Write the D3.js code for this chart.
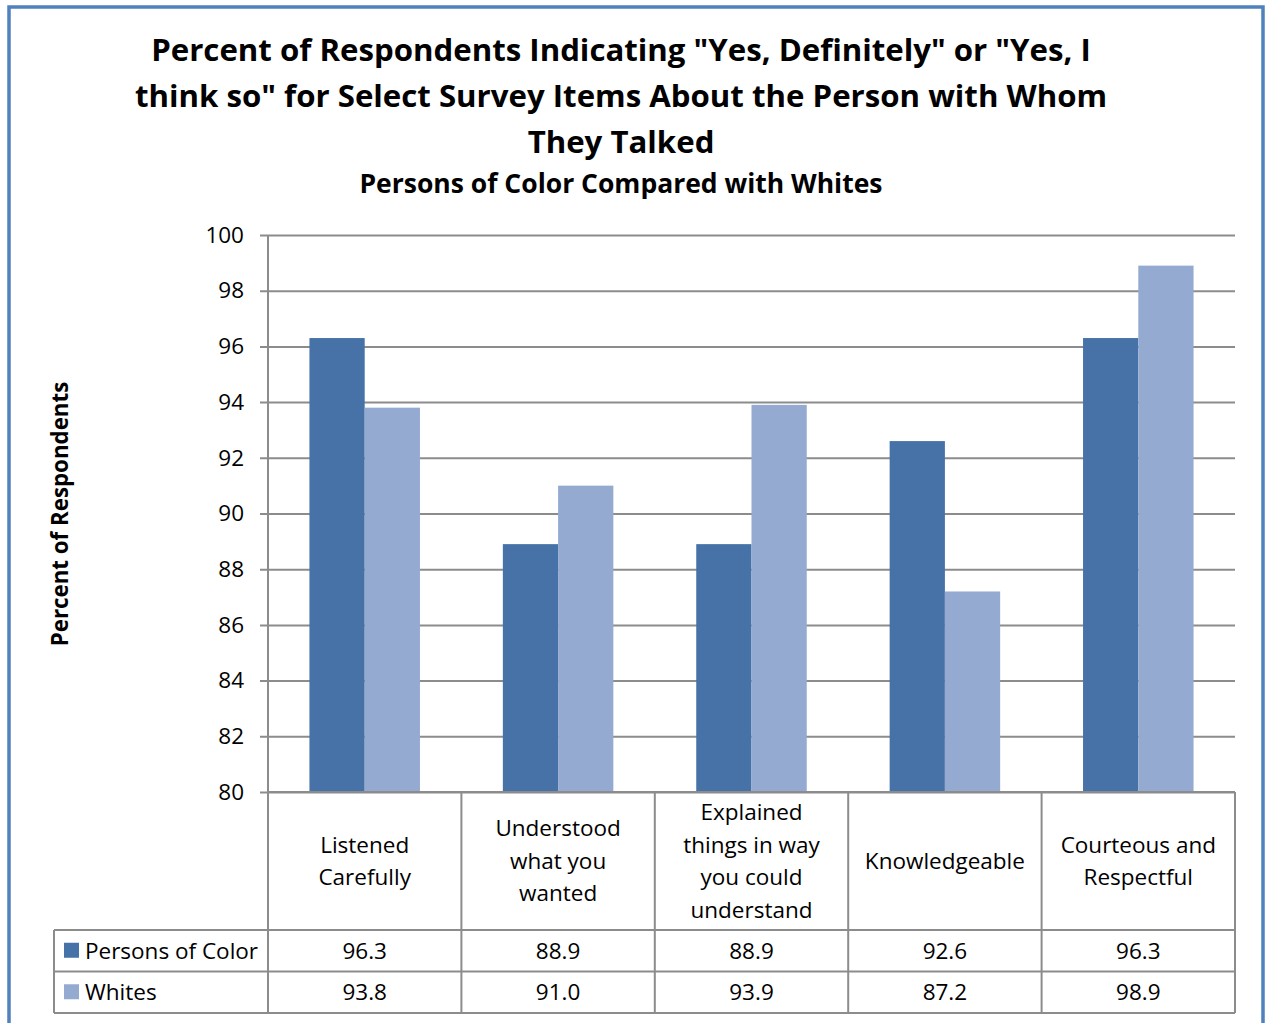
<!DOCTYPE html>
<html>
<head>
<meta charset="utf-8">
<script src="https://cdn.jsdelivr.net/npm/d3@7"></script>
<style>
  html, body { margin: 0; padding: 0; background: #fff; }
  svg { display: block; font-family: "Open Sans", Lato, sans-serif; }
</style>
</head>
<body>
<svg id="chart" width="1268" height="1023"></svg>
<script>
// Survey items (category axis), shown as wrapped lines in the data table header
const categories = [
  ["Listened", "Carefully"],
  ["Understood", "what you", "wanted"],
  ["Explained", "things in way", "you could", "understand"],
  ["Knowledgeable"],
  ["Courteous and", "Respectful"]
];
const seriesNames = ["Persons of Color", "Whites"];
const personsOfColor = [96.3, 88.9, 88.9, 92.6, 96.3];
const whites = [93.8, 91.0, 93.9, 87.2, 98.9];
const yTicks = [80, 82, 84, 86, 88, 90, 92, 94, 96, 98, 100];
const titleLines = [
  "Percent of Respondents Indicating \"Yes, Definitely\" or \"Yes, I",
  "think so\" for Select Survey Items About the Person with Whom",
  "They Talked"
];
const subtitle = "Persons of Color Compared with Whites";
const yTitle = "Percent of Respondents";

const colors = ["#4672A8", "#95AAD1"];
const series = [personsOfColor, whites];
const bodySize = 22.5;

const svg = d3.select("#chart");

// outer chart frame
svg.append("rect")
  .attr("x", 9).attr("y", 7).attr("width", 1254).attr("height", 1030)
  .attr("fill", "none").attr("stroke", "#4F81BD").attr("stroke-width", 3.5);

// titles
const titleG = svg.append("g").attr("font-weight", 700).attr("fill", "#000");
titleG.selectAll("text.title").data(titleLines).join("text")
  .attr("class", "title")
  .attr("x", 621).attr("y", (d, i) => 61 + i * 46)
  .attr("text-anchor", "middle").attr("font-size", 31.2)
  .text(d => d);
titleG.append("text")
  .attr("x", 621).attr("y", 193)
  .attr("text-anchor", "middle").attr("font-size", 26.5)
  .text(subtitle);

// plot geometry
const plotLeft = 268, plotRight = 1235, plotTop = 235, plotBottom = 792;
const y = d3.scaleLinear().domain([80, 100]).range([plotBottom, plotTop]);
const x0 = d3.scaleBand().domain(d3.range(categories.length)).range([plotLeft, plotRight]).paddingInner(0).paddingOuter(0);
const x1 = d3.scaleBand().domain(d3.range(series.length)).range([0, x0.bandwidth()]).paddingInner(0).paddingOuter(0.75);

// gridlines + ticks
const yAxis = d3.axisLeft(y).tickValues(yTicks).tickSize(-(plotRight - plotLeft)).tickPadding(16);
const yg = svg.append("g").attr("transform", `translate(${plotLeft},0)`).call(yAxis);
yg.select(".domain").remove();
yg.selectAll(".tick line").attr("stroke", "#8C8C8C").attr("stroke-width", 2).attr("x1", -8);
yg.selectAll(".tick text").attr("font-size", bodySize).attr("font-family", "'Open Sans', sans-serif").attr("fill", "#000").attr("x", -24);

// bars
const barG = svg.append("g");
series.forEach((vals, s) => {
  barG.selectAll(`rect.s${s}`).data(vals).join("rect")
    .attr("class", `s${s}`)
    .attr("x", (d, i) => x0(i) + x1(s))
    .attr("y", d => y(d))
    .attr("width", x1.bandwidth())
    .attr("height", d => y(80) - y(d))
    .attr("fill", colors[s]);
});

// y axis line
svg.append("line").attr("x1", plotLeft).attr("x2", plotLeft).attr("y1", plotTop).attr("y2", plotBottom)
  .attr("stroke", "#8C8C8C").attr("stroke-width", 2);

// y title
svg.append("text")
  .attr("transform", `translate(68,514) rotate(-90)`)
  .attr("text-anchor", "middle").attr("font-size", 22.3).attr("font-weight", 700)
  .text(yTitle);

// data table
const headerBottom = 930, rowH = 41.5, tableLeft = 54;
const tbl = svg.append("g").attr("stroke", "#8C8C8C").attr("stroke-width", 2).attr("fill", "none");
d3.range(categories.length + 1).forEach(i => {
  const xx = i < categories.length ? x0(i) : plotRight;
  tbl.append("line").attr("x1", xx).attr("x2", xx).attr("y1", plotBottom).attr("y2", headerBottom + 2 * rowH);
});
tbl.append("line").attr("x1", plotLeft).attr("x2", plotRight).attr("y1", plotBottom).attr("y2", plotBottom);
[0, 1, 2].forEach(r => {
  tbl.append("line").attr("x1", tableLeft).attr("x2", plotRight)
    .attr("y1", headerBottom + r * rowH).attr("y2", headerBottom + r * rowH);
});
tbl.append("line").attr("x1", tableLeft).attr("x2", tableLeft).attr("y1", headerBottom).attr("y2", headerBottom + 2 * rowH);

// category labels
const lineH = 32.5;
categories.forEach((lines, i) => {
  const cx = x0(i) + x0.bandwidth() / 2;
  const midY = (plotBottom + headerBottom) / 2;
  const startY = midY - (lines.length - 1) * lineH / 2;
  svg.append("g").selectAll("text").data(lines).join("text")
    .attr("x", cx).attr("y", (d, j) => startY + j * lineH)
    .attr("dy", "0.35em").attr("text-anchor", "middle").attr("font-size", bodySize)
    .text(d => d);
});

// series rows: legend key + values
series.forEach((vals, s) => {
  const cy = headerBottom + s * rowH + rowH / 2;
  svg.append("rect").attr("x", 64).attr("y", cy - 8).attr("width", 15).attr("height", 15).attr("fill", colors[s]);
  svg.append("text").attr("x", 85).attr("y", cy).attr("dy", "0.35em").attr("font-size", bodySize).text(seriesNames[s]);
  svg.append("g").selectAll("text").data(vals).join("text")
    .attr("x", (d, i) => x0(i) + x0.bandwidth() / 2).attr("y", cy)
    .attr("dy", "0.35em").attr("text-anchor", "middle").attr("font-size", bodySize)
    .text(d => d.toFixed(1));
});
</script>
</body>
</html>
